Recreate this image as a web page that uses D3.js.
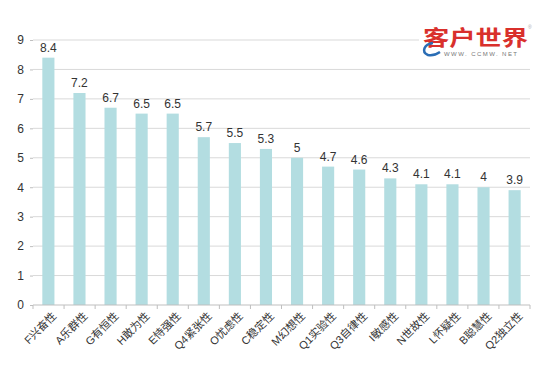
<!DOCTYPE html>
<html>
<head>
<meta charset="utf-8">
<script src="https://cdn.jsdelivr.net/npm/d3@7"></script>
<style>
  html, body { margin: 0; padding: 0; background: #fff; }
  svg { display: block; }
</style>
</head>
<body>
<svg width="560" height="371"></svg>
<script>
const width = 560;
const height = 371;

// data
var categories = ["F兴奋性", "A乐群性", "G有恒性", "H敢为性", "E恃强性", "Q4紧张性", "O忧虑性", "C稳定性",
    "M幻想性", "Q1实验性", "Q3自律性", "I敏感性", "N世故性", "L怀疑性", "B聪慧性", "Q2独立性"];
var values = [8.4, 7.2, 6.7, 6.5, 6.5, 5.7, 5.5, 5.3, 5, 4.7, 4.6, 4.3, 4.1, 4.1, 4, 3.9];
var yTicks = [0, 1, 2, 3, 4, 5, 6, 7, 8, 9];

var font = "'Liberation Sans', 'Noto Sans CJK SC', Arial, sans-serif";

var svg = d3.select("svg");

var x = d3.scaleBand()
    .domain(categories)
    .range([33, 530])
    .paddingInner(0.61)
    .paddingOuter(0.3);

var y = d3.scaleLinear()
    .domain([0, 9])
    .range([305, 40]);

// gridlines
svg.append("g")
    .selectAll("line")
    .data(yTicks.filter(function (d) { return d > 0; }))
    .join("line")
    .attr("x1", 33)
    .attr("x2", 530)
    .attr("y1", function (d) { return y(d); })
    .attr("y2", function (d) { return y(d); })
    .attr("stroke", "#d9d9d9")
    .attr("stroke-width", 1);

// y axis labels + little ticks
var yAxis = svg.append("g").attr("transform", "translate(33,0)")
    .call(d3.axisLeft(y).tickValues(yTicks).tickSize(3).tickPadding(6).tickFormat(d3.format("d")));
yAxis.select(".domain").remove();
yAxis.selectAll("line").attr("stroke", "#bfbfbf");
yAxis.selectAll("text")
    .attr("fill", "#333")
    .style("font-family", font)
    .style("font-size", "12px");

// bars
svg.append("g")
    .selectAll("rect")
    .data(values)
    .join("rect")
    .attr("x", function (d, i) { return x(categories[i]); })
    .attr("y", function (d) { return y(d); })
    .attr("width", x.bandwidth())
    .attr("height", function (d) { return y(0) - y(d); })
    .attr("fill", "#b3dde1");

// value labels
svg.append("g")
    .selectAll("text")
    .data(values)
    .join("text")
    .attr("x", function (d, i) { return x(categories[i]) + x.bandwidth() / 2; })
    .attr("y", function (d) { return y(d) - 6; })
    .attr("text-anchor", "middle")
    .attr("fill", "#333")
    .style("font-family", font)
    .style("font-size", "12px")
    .text(function (d) { return d; });

// x axis with ticks between the categories
var step = x.step();
var bounds = d3.range(categories.length + 1).map(function (i) { return 33 + i * (497 / categories.length); });
var xg = svg.append("g");
xg.append("line")
    .attr("x1", 33).attr("x2", 530)
    .attr("y1", y(0)).attr("y2", y(0))
    .attr("stroke", "#bfbfbf");
xg.selectAll("line.tick")
    .data(bounds)
    .join("line")
    .attr("class", "tick")
    .attr("x1", function (d) { return d; })
    .attr("x2", function (d) { return d; })
    .attr("y1", y(0))
    .attr("y2", y(0) + 4)
    .attr("stroke", "#bfbfbf");

xg.selectAll("text")
    .data(categories)
    .join("text")
    .attr("transform", function (d) {
        return "translate(" + (x(d) + x.bandwidth() / 2 + 6) + "," + (y(0) + 9) + ") rotate(-45)";
    })
    .attr("text-anchor", "end")
    .attr("dy", "0.35em")
    .attr("fill", "#333")
    .style("font-family", font)
    .style("font-size", "11px")
    .text(function (d) { return d; });

// logo in the top right corner
var logo = svg.append("g");
logo.append("rect")
    .attr("x", 419).attr("y", 24).attr("width", 115).attr("height", 36)
    .attr("fill", "#fff");
logo.append("text")
    .attr("x", 423).attr("y", 45)
    .attr("textLength", 105)
    .attr("lengthAdjust", "spacingAndGlyphs")
    .attr("fill", "#d9302c")
    .style("font-family", "'Noto Sans CJK SC', sans-serif")
    .style("font-weight", "bold")
    .style("font-size", "21px")
    .text("客户世界");
logo.append("path")
    .attr("d", "M433,43 C424,44 421,52 428,55 C432,56 437,54 440,52")
    .attr("fill", "none")
    .attr("stroke", "#2a6db5")
    .attr("stroke-width", 2.5);
logo.append("text")
    .attr("x", 444).attr("y", 56)
    .attr("textLength", 73)
    .attr("lengthAdjust", "spacing")
    .attr("fill", "#777")
    .style("font-family", font)
    .style("font-size", "6px")
    .text("WWW. CCMW. NET");
logo.append("text")
    .attr("x", 528).attr("y", 29)
    .attr("fill", "#aaa")
    .style("font-family", font)
    .style("font-size", "5px")
    .text("®");
</script>
</body>
</html>
